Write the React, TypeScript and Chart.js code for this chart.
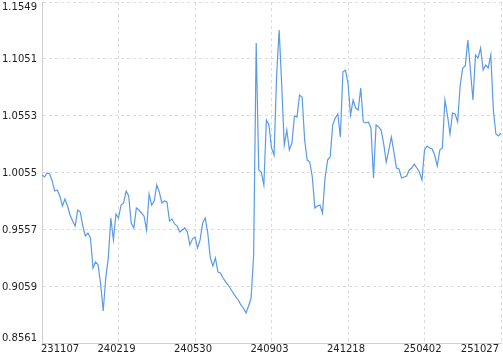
import React, { useEffect, useRef } from 'react';
import { Chart, registerables } from 'chart.js';

Chart.register(...registerables);

// x tick labels (shown every `tickEvery` points)
const tickLabels = ['231107', '240219', '240530', '240903', '241218', '250402', '251027'];
const tickEvery = 30;

// y tick values
const yTicks = [0.8561, 0.9059, 0.9557, 1.0055, 1.0553, 1.1051, 1.1549];

// series values (one per point, 181 points)
const values = [
  1.0033, 1.0016, 1.0051, 1.0042, 0.9981, 0.9893, 0.9902, 0.9849, 0.9761, 0.9823,
  0.9761, 0.9683, 0.9630, 0.9586, 0.9726, 0.9709, 0.9586, 0.9499, 0.9525, 0.9481,
  0.9218, 0.9271, 0.9245, 0.9078, 0.8841, 0.9131, 0.9306, 0.9656, 0.9464, 0.9691,
  0.9656, 0.9770, 0.9788, 0.9893, 0.9849, 0.9612, 0.9569, 0.9744, 0.9726, 0.9700,
  0.9674, 0.9551, 0.9867, 0.9770, 0.9805, 0.9946, 0.9884, 0.9788, 0.9805, 0.9797,
  0.9630, 0.9647, 0.9604, 0.9586, 0.9534, 0.9551, 0.9569, 0.9534, 0.9420, 0.9472,
  0.9490, 0.9393, 0.9464, 0.9612, 0.9656, 0.9525, 0.9306, 0.9236, 0.9306, 0.9183,
  0.9174, 0.9131, 0.9096, 0.9069, 0.9034, 0.8999, 0.8964, 0.8938, 0.8894, 0.8868,
  0.8824, 0.8885, 0.8955, 0.9332, 1.1190, 1.0077, 1.0059, 0.9946, 1.0515, 1.0471,
  1.0270, 1.0208, 1.0901, 1.1304, 1.0822, 1.0296, 1.0427, 1.0252, 1.0313, 1.0550,
  1.0541, 1.0734, 1.0717, 1.0340, 1.0164, 1.0147, 1.0016, 0.9744, 0.9761, 0.9770,
  0.9700, 1.0007, 1.0164, 1.0191, 1.0471, 1.0533, 1.0568, 1.0366, 1.0936, 1.0953,
  1.0839, 1.0559, 1.0690, 1.0620, 1.0603, 1.0795, 1.0498, 1.0489, 1.0498, 1.0445,
  1.0007, 1.0471, 1.0454, 1.0427, 1.0305, 1.0147, 1.0252, 1.0366, 1.0235, 1.0094,
  1.0086, 1.0007, 1.0016, 1.0024, 1.0077, 1.0094, 1.0129, 1.0094, 1.0059, 0.9989,
  1.0252, 1.0287, 1.0270, 1.0261, 1.0208, 1.0112, 1.0252, 1.0270, 1.0690, 1.0559,
  1.0392, 1.0576, 1.0568, 1.0498, 1.0822, 1.0971, 1.0988, 1.1216, 1.0953, 1.0690,
  1.1085, 1.1058, 1.1146, 1.0953, 1.0997, 1.0971, 1.1085, 1.0603, 1.0392, 1.0375,
  1.0401,
];

const FONT = '10px "DejaVu Sans", Verdana, sans-serif';
const TEXT_COLOR = '#222';
const GRID_COLOR = '#dcdcdc';
const AXIS_COLOR = '#cfcfcf';
const LINE_COLOR = '#5a9ae6';

const labelPlugin = {
  id: 'edgeLabels',
  afterDraw(chart: any) {
    const { ctx, scales } = chart;
    const x = scales.x;
    const y = scales.y;
    ctx.save();
    ctx.font = FONT;
    ctx.fillStyle = TEXT_COLOR;
    ctx.textAlign = 'right';
    ctx.textBaseline = 'middle';
    yTicks.forEach((v) => {
      let py = y.getPixelForValue(v) + 1;
      py = Math.max(7, Math.min(338, py));
      ctx.fillText(v.toFixed(4), 37, py);
    });
    const last = tickLabels.length - 1;
    tickLabels.forEach((t, k) => {
      const px = x.getPixelForValue(k * tickEvery);
      ctx.textAlign = k === 0 ? 'left' : k === last ? 'right' : 'center';
      const ox = k === 0 ? -1 : -2;
      ctx.fillText(t, px + ox, 349);
    });
    ctx.restore();
  },
};

export default function App() {
  const ref = useRef<HTMLCanvasElement | null>(null);
  useEffect(() => {
    document.body.style.margin = '0';
    const canvas = ref.current;
    if (!canvas) return;
    const chart = new Chart(canvas, {
      type: 'line',
      data: {
        datasets: [
          {
            data: values.map((v, i) => ({ x: i, y: v })),
            borderColor: LINE_COLOR,
            borderWidth: 1.2,
            pointRadius: 0,
            tension: 0,
            fill: false,
          },
        ],
      },
      options: {
        animation: false,
        responsive: false,
        devicePixelRatio: 1,
        layout: { padding: { left: 42, right: 2, top: 2, bottom: 12 } },
        plugins: { legend: { display: false }, tooltip: { enabled: false } },
        scales: {
          x: {
            type: 'linear',
            min: 0,
            max: (tickLabels.length - 1) * tickEvery,
            afterBuildTicks: (s: any) => {
              s.ticks = tickLabels.map((_, k) => ({ value: k * tickEvery }));
            },
            ticks: { display: false },
            grid: { color: GRID_COLOR, drawTicks: false, lineWidth: 1 },
            border: { display: true, color: AXIS_COLOR, dash: [3, 3] },
          },
          y: {
            type: 'linear',
            min: yTicks[0],
            max: yTicks[yTicks.length - 1],
            afterBuildTicks: (s: any) => {
              s.ticks = yTicks.map((v) => ({ value: v }));
            },
            ticks: { display: false },
            grid: { color: GRID_COLOR, drawTicks: false, lineWidth: 1 },
            border: { display: true, color: AXIS_COLOR, dash: [3, 3] },
          },
        },
      },
      plugins: [labelPlugin],
    });
    return () => chart.destroy();
  }, []);
  return (
    <div style={{ width: 503, height: 355, position: 'relative' }}>
      <canvas ref={ref} width={503} height={355} style={{ display: 'block' }} />
    </div>
  );
}
